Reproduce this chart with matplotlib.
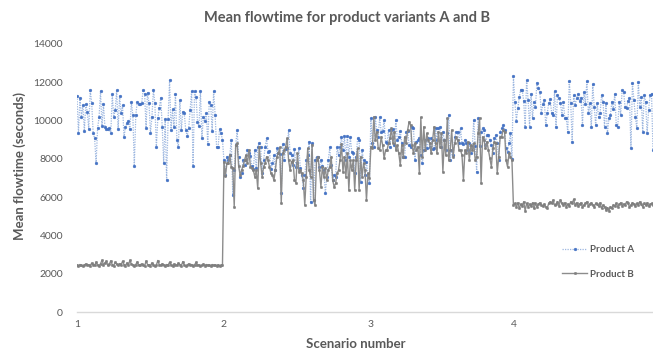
import numpy as np
import matplotlib
matplotlib.use("Agg")
import matplotlib.pyplot as plt

# ---- data ----
scenario_labels = ["1", "2", "3", "4"]

a_s1 = [11275, 9327, 11188, 10197, 10805, 9448, 10875, 10457, 9553, 11588,
        10927, 9362, 9065, 7760, 9587, 10161, 11536, 9727, 10858, 9675,
        9535, 9535, 9587, 9327, 11362, 10197, 10544, 11588, 9570, 11275,
        10370, 10788, 9118, 9675, 9849, 9970, 9553, 10962, 10283, 7621,
        10283, 10962, 10875, 10875, 10892, 11588, 11414, 9622, 11466, 10892,
        9327, 10197, 11623, 10892, 8595, 10109, 10666, 11188, 9675, 7760,
        10057, 6890, 10057, 12110,
        9500, 10579, 9675, 11380, 8978, 8595, 11066, 9500, 10457, 10370,
        9500, 9187, 9587, 10544, 11553, 7621, 11536, 11240, 9936, 9709,
        11553, 9065, 10197, 9988, 10405, 8770, 10979, 10805, 9466, 11553,
        10283, 8630, 8595, 9535, 9362, 8978]
b_s1 = [2450, 2420, 2480, 2430, 2400, 2460, 2510, 2440, 2470, 2420,
        2550, 2480, 2430, 2610, 2450, 2400, 2520, 2700, 2480, 2560,
        2650, 2430, 2500, 2680, 2470, 2420, 2600, 2490, 2440, 2530,
        2460, 2650, 2480, 2420, 2560, 2440, 2700, 2500, 2460, 2420,
        2480, 2620, 2430, 2470, 2510, 2440, 2400, 2660, 2480, 2450,
        2420, 2560, 2480, 2400, 2450, 2690, 2470, 2430, 2520, 2460,
        2410, 2480, 2440, 2600, 2450, 2420, 2500, 2470, 2430, 2550,
        2480, 2420, 2630, 2460, 2400, 2450, 2520, 2440, 2480, 2410,
        2460, 2590, 2430, 2470, 2400, 2450, 2500, 2420, 2480, 2440,
        2460, 2410, 2480, 2430, 2450, 2420, 2470, 2400, 2440, 2430]

a_s2 = [7934, 7151, 8108, 7934, 8195, 8978, 6107, 7412, 8717, 9500,
        8108, 7064, 7238, 7934, 7656, 7934, 8456, 8282, 8143, 7621,
        7447, 8456, 7499, 8630, 8804, 8595, 7238, 7934,
        8595, 9065, 8369, 8421, 7447, 7760, 8195, 7412, 8543, 8282,
        8247, 6229, 8752, 7934, 8491, 8543, 9500, 8317, 8195, 7673,
        8491, 7586, 7760, 8543, 7499, 7151, 6455, 7151, 7934, 8195,
        8891, 5759, 8804, 5846, 7934, 8108, 8108, 7586, 7934, 7621,
        7412, 6194, 7064, 7934, 8595, 7673, 6890, 7151, 7064, 8595,
        8195, 8630, 9152, 8456, 9187, 7934, 9187, 8108, 9117, 8369,
        8317, 7238, 8108, 9100, 8978, 6803, 8456, 7934, 7151,
        7847, 7151, 6716]
b_s2 = [7847, 7099, 7760, 7760, 8195, 7586, 7499, 5498, 8717, 8804,
        7621, 7151, 7412, 7621, 7934, 8195, 7760, 8456, 7586, 7534,
        7412, 7064, 7412, 6455, 8630, 7760, 7064, 7586, 7760,
        8108, 7934, 7586, 7238, 7151, 6890, 7412, 8108, 8282, 8595,
        5672, 8282, 8456, 8630, 9065, 7934, 7412, 7847, 7934, 6890,
        6751, 8282, 7325, 7412, 7238, 6890, 5585, 7064, 8543, 7412,
        7064, 8717, 5846, 5585, 7934, 8108, 7412, 6542, 7586, 7064,
        7499, 6890, 7412, 7586, 8108, 6890, 6542, 6716, 7238, 7412,
        7934, 8769, 7325, 8108, 7064, 8282, 6368, 7934, 7412, 7934,
        6368, 7934, 8543, 6368, 8108, 7064, 7760, 7412, 5846,
        7238, 6977]

a_s3 = [10109, 8804, 8630, 10161, 9500, 9152, 10161, 9413, 9465, 10022,
        8891, 8839, 9500, 8630, 9500, 9535, 8717, 10022, 8978, 9152,
        9465, 8804, 8108, 8108, 9413, 9465, 8717, 8630, 9674, 9587,
        7934, 8891, 8978, 9065, 8195, 7760, 8456, 8978, 8543, 9065,
        8595, 9065, 8491, 8543, 9587, 8978, 9587, 9639, 8595, 9413,
        8978, 8456, 9361, 10283, 7934, 8456, 8195, 9117, 9413,
        9413, 8804, 9587, 8804, 8769, 8978, 8804, 8456, 8804, 8282,
        8595, 10022, 8665, 7325, 10109, 8665, 9413, 9587, 9500, 8717,
        9239, 9239, 8978, 8717, 8282, 9065, 9239, 8804, 7934, 9413,
        9587, 9761, 9500, 8543, 8369, 8804, 9326, 7969]
b_s3 = [8630, 8543, 10196, 8978, 9413, 8543, 8456, 9152, 8717, 8021,
        8456, 8456, 8804, 9065, 9587, 8839, 9413, 8456, 8717, 8282,
        7673, 8717, 8108, 9152, 8804, 9500, 9935, 9761, 8717, 8282,
        8804, 8456, 8630, 7238, 10161, 8108, 9674, 8456, 9326, 8978,
        8804, 8282, 8978, 9674, 8804, 8282, 9413, 8630, 9326, 7325,
        8978, 8195, 10109, 7934, 8456, 9500, 8108, 8804, 9117,
        8978, 8456, 8456, 8195, 6890, 8456, 8282, 8891, 7934, 8717,
        8456, 8804, 7934, 8108, 9326, 10109, 6716, 9152, 8978, 8543,
        8891, 8456, 8021, 7586, 8543, 8891, 8804, 7273, 8108, 9152,
        9152, 9500, 9413, 7934, 7586, 8282, 8108, 7934]

a_s4 = [12319, 10979, 9987, 10631, 11240, 11623, 11588, 11031, 9674, 12145,
        11066, 9674, 11414, 10109, 10979, 10718, 11971, 11727, 11501, 10370,
        10857, 11066, 9761, 10370, 10892, 11101, 10405, 10283, 11553,
        9674, 11327, 11205, 10927, 10283, 10979, 10109, 10109, 9413, 12075,
        10927, 8891, 11327, 10805, 11153, 11414, 11031, 11205, 9761, 11501,
        10857, 12075, 10370, 10892, 9639, 11901, 10718, 9761, 10892, 10196,
        10405, 11327, 10979, 9674, 10892, 9326, 10109, 10283, 10979, 10579,
        11414, 9761, 9674, 10979, 10283, 11588, 11501, 10718, 10631,
        11031, 11153, 8543, 11971, 11066, 10196, 9587, 12023, 10718, 11240,
        9413, 11327, 10979, 9326, 10544, 11327, 11414, 8456]
b_s4 = [5585, 5672, 5498, 5707, 5411, 5637, 5533, 5759, 5289, 5672,
        5498, 5637, 5533, 5707, 5411, 5672, 5498, 5637, 5707, 5568,
        5533, 5637, 5498, 5411, 5672, 5759, 5672, 5846, 5585,
        5620, 5759, 5550, 5846, 5672, 5585, 5707, 5498, 5637, 5533,
        5759, 5672, 5880, 5585, 5707, 5533, 5637, 5707, 5498, 5585,
        5672, 5759, 5550, 5637, 5707, 5585, 5498, 5672, 5620, 5533,
        5707, 5411, 5585, 5498, 5324, 5446, 5289, 5498, 5411, 5585,
        5533, 5672, 5498, 5620, 5707, 5550, 5637, 5585, 5759, 5672,
        5498, 5585, 5707, 5637, 5533, 5672, 5585, 5759, 5620, 5498,
        5672, 5585, 5707, 5533, 5620, 5672, 5585]

series_a = [a_s1, a_s2, a_s3, a_s4]
series_b = [b_s1, b_s2, b_s3, b_s4]

# ---- build x positions: one category per replication, grouped by scenario ----
xa, ya, xb, yb, starts = [], [], [], [], []
off = 0
for sa, sb in zip(series_a, series_b):
    n = min(len(sa), len(sb))
    starts.append(off)
    xa += list(range(off, off + n)); ya += sa[:n]
    xb += list(range(off, off + n)); yb += sb[:n]
    off += n
total = off

plt.rcParams['font.family'] = ['Lato', 'DejaVu Sans']
fig = plt.figure(figsize=(6.53, 3.54), dpi=100)
ax = fig.add_axes([77/653, 42/354, (653-77)/653, 268/354])

grey_txt = '#595959'
ax.plot(xa, ya, linestyle=(0, (1, 1)), color='#9DB7E0', linewidth=0.9,
        marker='o', markersize=2.0, markerfacecolor='#4472C4',
        markeredgecolor='#4472C4', markeredgewidth=0.3, label='Product A', zorder=2)
ax.plot(xb, yb, linestyle='-', color='#8C8C8C', linewidth=1.0,
        marker='o', markersize=1.8, markerfacecolor='#7F7F7F',
        markeredgecolor='#7F7F7F', markeredgewidth=0.3, label='Product B', zorder=3)

ax.set_xlim(0, total - 1)
ax.set_ylim(0, 14000)
ax.set_yticks(np.arange(0, 14001, 2000))
ax.set_xticks(starts)
ax.set_xticklabels(scenario_labels)
for s in ['top', 'right', 'left']:
    ax.spines[s].set_visible(False)
ax.spines['bottom'].set_color('#D9D9D9')
ax.spines['bottom'].set_linewidth(1.0)
ax.tick_params(axis='both', length=0, labelsize=7.5, colors=grey_txt)
ax.tick_params(axis='y', pad=10)
ax.tick_params(axis='x', pad=6)

fig.text(347/653, 1 - 18/354, 'Mean flowtime for product variants A and B',
         ha='center', va='center', fontsize=10.5, fontweight='bold', color=grey_txt)
fig.text(356/653, 1 - 344/354, 'Scenario number', ha='center', va='center',
         fontsize=9.5, fontweight='bold', color=grey_txt)
fig.text(20/653, 1 - 166/354, 'Mean flowtime (seconds)', ha='center', va='center',
         rotation=90, fontsize=9.5, fontweight='bold', color=grey_txt)

leg = fig.legend(loc='upper left', bbox_to_anchor=(562/653, 1 - 245/354),
                 frameon=False, fontsize=7, labelspacing=1.6, handlelength=2.6,
                 handletextpad=0.3, borderpad=0, borderaxespad=0)
for t in leg.get_texts():
    t.set_color(grey_txt)
    t.set_fontweight('bold')

fig.savefig('out.png', dpi=100)
